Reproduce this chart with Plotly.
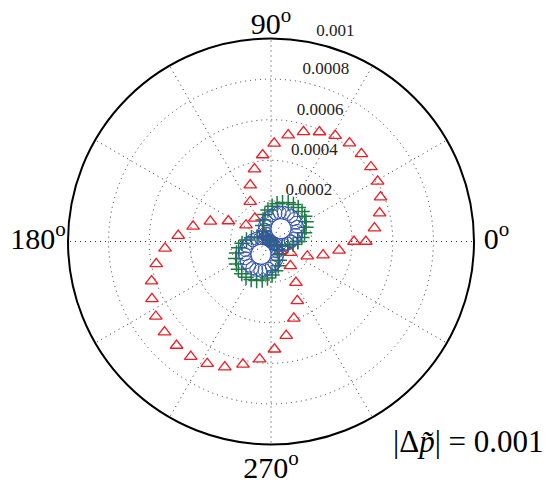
import plotly.graph_objects as go

# sample angles (degrees)
theta = [0, 7.35, 14.69, 22.04, 29.39, 36.73, 44.08, 51.43, 58.78, 66.12,
         73.47, 80.82, 88.16, 95.51, 102.86, 110.2, 117.55, 124.9, 132.24, 139.59,
         146.94, 154.29, 161.63, 168.98, 176.33, 183.67, 191.02, 198.37, 205.71, 213.06,
         220.41, 227.76, 235.1, 242.45, 249.8, 257.14, 264.49, 271.84, 279.18, 286.53,
         293.88, 301.22, 308.57, 315.92, 323.27, 330.61, 337.96, 345.31, 352.65, 360]

# |Δp| values in units of 1e-4
red_r = [4.67, 5.14, 5.53, 5.82, 6.03, 6.14, 6.20, 6.20, 6.10, 5.90,
         5.63, 5.31, 4.84, 4.28, 3.66, 2.96, 2.21, 1.39, 0.46, 0.46,
         1.47, 2.33, 3.15, 3.91, 4.58, 5.23, 5.76, 6.20, 6.51, 6.77,
         6.89, 6.92, 6.91, 6.79, 6.59, 6.21, 5.82, 5.31, 4.70, 3.95,
         3.20, 2.37, 1.53, 0.66, 0.14, 1.11, 1.93, 2.65, 3.38, 4.09]

green_r = [1.32, 1.53, 1.71, 1.86, 1.98, 2.07, 2.13, 2.15, 2.13, 2.09,
           2.00, 1.88, 1.74, 1.56, 1.36, 1.13, 0.89, 0.63, 0.37, 0.09,
           0.18, 0.46, 0.72, 0.98, 1.21, 1.43, 1.62, 1.79, 1.93, 2.03,
           2.11, 2.14, 2.15, 2.11, 2.05, 1.95, 1.81, 1.65, 1.46, 1.25,
           1.01, 0.76, 0.50, 0.23, 0.05, 0.32, 0.59, 0.85, 1.10, 1.32]

blue_r = [0.98, 1.14, 1.27, 1.39, 1.48, 1.54, 1.58, 1.60, 1.59, 1.55,
          1.49, 1.40, 1.29, 1.16, 1.01, 0.84, 0.66, 0.47, 0.27, 0.07,
          0.14, 0.34, 0.54, 0.73, 0.90, 1.06, 1.21, 1.33, 1.44, 1.51,
          1.57, 1.60, 1.60, 1.57, 1.52, 1.45, 1.35, 1.23, 1.09, 0.93,
          0.75, 0.57, 0.37, 0.17, 0.04, 0.24, 0.44, 0.63, 0.82, 0.98]

radial_ticks = [0.0002, 0.0004, 0.0006, 0.0008, 0.001]
radial_labels = ["0.0002", "0.0004", "0.0006", "0.0008", "0.001"]
radial_label_pad = [2, 2, 2, 2, 4]   # leading blanks before each label
angle_ticks = [0, 30, 60, 90, 120, 150, 180, 210, 240, 270, 300, 330]
angle_label_vals = [0, 90, 180, 270]
angle_label_text = ["0<sup>o</sup>", "90<sup>o</sup>", "180<sup>o</sup>", "270<sup>o</sup>"]
label_angle = 82
scale = 1e-4

SERIF = "Liberation Serif"
NB = "\u00a0"

fig = go.Figure()
fig.add_trace(go.Scatterpolar(
    r=[v * scale for v in red_r], theta=theta, mode="markers",
    marker=dict(symbol="triangle-up-open", size=11, color="#ee1c24",
                line=dict(width=1.3, color="#ee1c24")),
    showlegend=False))
fig.add_trace(go.Scatterpolar(
    r=[v * scale for v in green_r], theta=theta, mode="markers",
    marker=dict(symbol="cross-thin-open", size=11, color="#1f7a45",
                line=dict(width=1.5, color="#1f7a45")),
    showlegend=False))
fig.add_trace(go.Scatterpolar(
    r=[v * scale for v in blue_r], theta=theta, mode="markers",
    marker=dict(symbol="circle-open", size=13, color="#3553b3",
                line=dict(width=1.0, color="#3553b3")),
    showlegend=False))
# radial ring labels
fig.add_trace(go.Scatterpolar(
    r=[min(t + 0.00001, 0.001) for t in radial_ticks], theta=[label_angle] * len(radial_ticks),
    mode="text", text=[NB * p + s for p, s in zip(radial_label_pad, radial_labels)],
    textposition="top right",
    textfont=dict(family=SERIF, size=17, color="#222222"),
    cliponaxis=False, showlegend=False, hoverinfo="skip"))
# angular labels (invisible markers set the gap between label and rim)
fig.add_trace(go.Scatterpolar(
    r=[0.001, 0.000975, 0.001, 0.001], theta=angle_label_vals,
    mode="markers+text", text=angle_label_text,
    marker=dict(size=[14, 1, 2, 16], opacity=0),
    textposition=["middle right", "top center", "middle left", "bottom center"],
    textfont=dict(family=SERIF, size=30, color="black"),
    cliponaxis=False, showlegend=False, hoverinfo="skip"))

fig.update_layout(
    width=548, height=487,
    margin=dict(l=0, r=0, t=0, b=0),
    paper_bgcolor="white",
    showlegend=False,
    polar=dict(
        domain=dict(x=[68 / 548, 474 / 548], y=[1 - 444.5 / 487, 1 - 38.5 / 487]),
        bgcolor="white",
        radialaxis=dict(range=[0, 0.001], tickvals=radial_ticks, showticklabels=False,
                        ticks="", showline=False, gridcolor="#333333", gridwidth=1,
                        griddash="1px,4px"),
        angularaxis=dict(rotation=0, direction="counterclockwise",
                         tickmode="array", tickvals=angle_ticks, showticklabels=False,
                         ticks="", showline=True, linecolor="black", linewidth=2,
                         gridcolor="#333333", gridwidth=1, griddash="1px,4px"),
    ),
    annotations=[dict(
        text="|\u0394<i>p\u0303</i>| = 0.001", xref="paper", yref="paper",
        x=546 / 548, y=1 - 441 / 487, xanchor="right", yanchor="middle",
        showarrow=False, font=dict(family=SERIF, size=31, color="black"))],
)

fig.write_html("out.html")
